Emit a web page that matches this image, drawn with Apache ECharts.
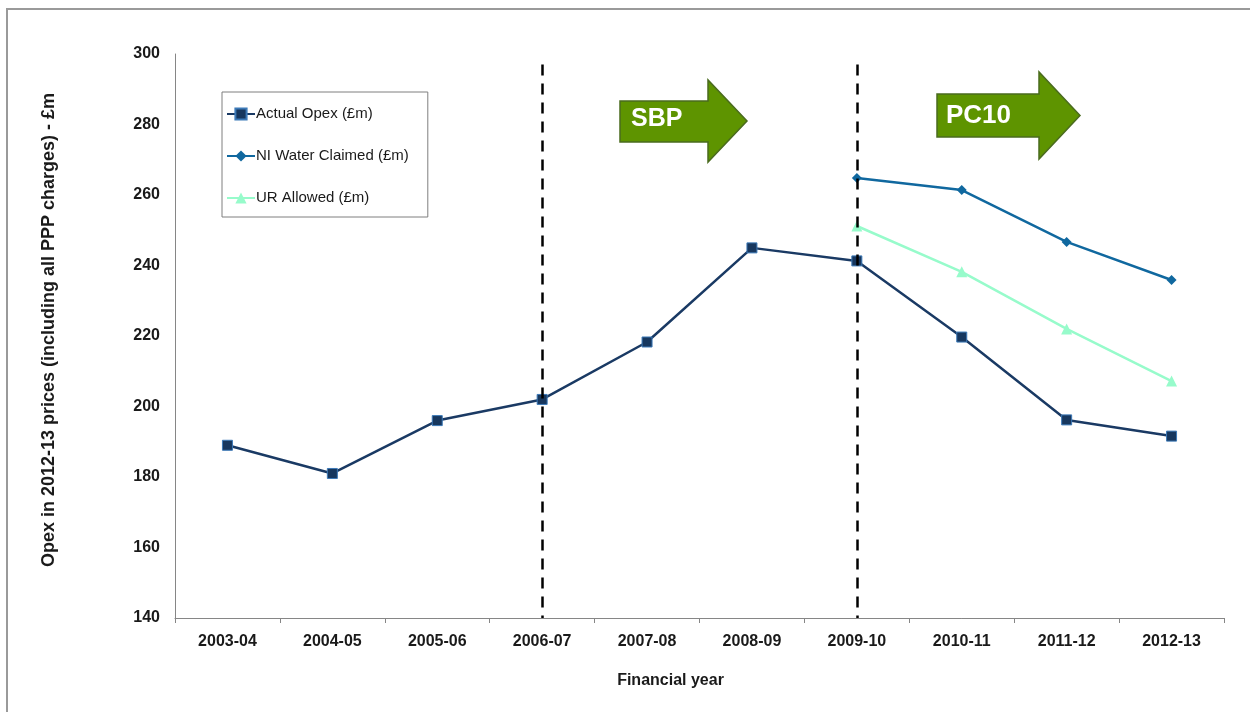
<!DOCTYPE html>
<html>
<head>
<meta charset="utf-8">
<script src="https://cdn.jsdelivr.net/npm/echarts@6/dist/echarts.min.js"></script>
<style>html,body{margin:0;padding:0;background:#fff;}#c{width:1250px;height:712px;}</style>
</head>
<body>
<div id="c"></div>
<script>
var categories = ['2003-04','2004-05','2005-06','2006-07','2007-08','2008-09','2009-10','2010-11','2011-12','2012-13'];
var actualOpex = [189, 181, 196, 202, 218.3, 245, 241.3, 219.7, 196.2, 191.6];
var niClaimed = [null, null, null, null, null, null, 264.8, 261.4, 246.7, 235.9];
var urAllowed = [null, null, null, null, null, null, 251.2, 238.2, 222, 207.2];
var yTicks = {min: 140, max: 300, interval: 20};
var periodLines = ['2006-07', '2009-10'];

var chart = echarts.init(document.getElementById('c'));
var font = "'Liberation Sans', Arial, sans-serif";

function arrowPoints(x0, yb0, yb1, xh, yh0, yh1, xt) {
  var ym = (yh0 + yh1) / 2;
  return [[x0, yb0], [xh, yb0], [xh, yh0], [xt, ym], [xh, yh1], [xh, yb1], [x0, yb1]];
}

var dashLine = {
  silent: true,
  symbol: 'none',
  label: {show: false},
  lineStyle: {color: '#000', type: [11, 8], width: 2.5},
  data: periodLines.map(function (c) {
    return [{coord: [c, 297]}, {coord: [c, 140]}];
  })
};

chart.setOption({
  animation: false,
  textStyle: {fontFamily: font},
  grid: {left: 175, top: 54, right: 26, bottom: 94},
  legend: {
    orient: 'vertical',
    left: 222, top: 92,
    padding: [13, 19, 10, 4],
    itemGap: 24,
    itemWidth: 28, itemHeight: 14,
    borderColor: '#7f7f7f', borderWidth: 1,
    textStyle: {fontFamily: font, fontSize: 15, lineHeight: 18, color: '#1a1a1a', padding: [0, 0, 0, -4]},
    data: ['Actual Opex (£m)', 'NI Water Claimed (£m)', 'UR Allowed (£m)']
  },
  xAxis: {
    type: 'category',
    data: categories,
    boundaryGap: true,
    name: 'Financial year',
    nameLocation: 'middle',
    nameGap: 55,
    nameTextStyle: {fontFamily: font, fontSize: 16, fontWeight: 'bold', color: '#1a1a1a', padding: [0, 58, 0, 0]},
    axisLine: {lineStyle: {color: '#868686', width: 1}},
    axisTick: {show: true, length: 5, lineStyle: {color: '#868686'}},
    axisLabel: {fontFamily: font, fontSize: 16, fontWeight: 'bold', color: '#1a1a1a', margin: 16},
    splitLine: {show: false}
  },
  yAxis: {
    type: 'value',
    min: yTicks.min, max: yTicks.max, interval: yTicks.interval,
    name: 'Opex in 2012-13 prices (including all PPP charges) - £m',
    nameLocation: 'middle',
    nameGap: 117,
    nameTextStyle: {fontFamily: font, fontSize: 18, fontWeight: 'bold', color: '#1a1a1a', padding: [0, 0, 0, 12]},
    axisLine: {show: true, lineStyle: {color: '#868686', width: 1}},
    axisTick: {show: false},
    axisLabel: {fontFamily: font, fontSize: 16, fontWeight: 'bold', color: '#1a1a1a', margin: 15},
    splitLine: {show: false}
  },
  series: [
    {
      name: 'Actual Opex (£m)', type: 'line', data: actualOpex,
      symbol: 'rect', symbolSize: 10,
      lineStyle: {color: '#1a3a64', width: 2.5},
      itemStyle: {color: '#17375e', borderColor: '#3d7ab8', borderWidth: 1},
      z: 3,
      markLine: dashLine
    },
    {
      name: 'NI Water Claimed (£m)', type: 'line', data: niClaimed,
      symbol: 'diamond', symbolSize: 10,
      lineStyle: {color: '#10689f', width: 2.5},
      itemStyle: {color: '#10689f', borderColor: '#10689f', borderWidth: 0},
      z: 3
    },
    {
      name: 'UR Allowed (£m)', type: 'line', data: urAllowed,
      symbol: 'triangle', symbolSize: 11,
      lineStyle: {color: '#97fbcb', width: 2.5},
      itemStyle: {color: '#97fbcb', borderWidth: 0},
      z: 3
    }
  ],
  graphic: [
    {type: 'rect', shape: {x: 7, y: 9, width: 1260, height: 720}, style: {fill: 'none', stroke: '#9a9a9a', lineWidth: 2}, silent: true, z: -10},
    {type: 'polygon', shape: {points: arrowPoints(620, 101, 142, 708, 80, 162, 747)}, style: {fill: '#5e9400', stroke: '#4a6b1e', lineWidth: 1.5}, z: 10},
    {type: 'text', left: 631, top: 107, style: {text: 'SBP', fill: '#fff', font: 'bold 25px ' + font}, z: 11},
    {type: 'polygon', shape: {points: arrowPoints(937, 94, 137, 1039, 72, 159, 1080)}, style: {fill: '#5e9400', stroke: '#4a6b1e', lineWidth: 1.5}, z: 10},
    {type: 'text', left: 946, top: 103, style: {text: 'PC10', fill: '#fff', font: 'bold 26px ' + font}, z: 11}
  ]
});
</script>
</body>
</html>
